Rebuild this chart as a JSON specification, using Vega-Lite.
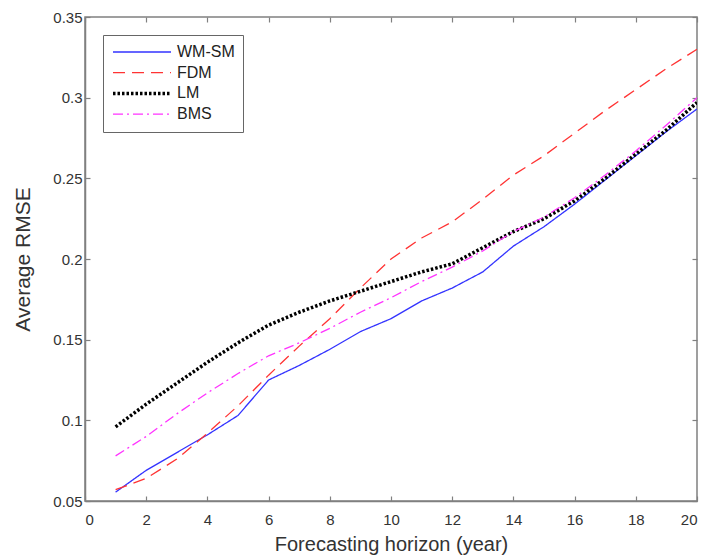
{
  "$schema": "https://vega.github.io/schema/vega-lite/v6.json",
  "width": 612,
  "height": 484,
  "autosize": {"type": "none"},
  "padding": {"left": 85, "top": 17, "right": 12, "bottom": 58},
  "background": "white",
  "config": {
    "font": "Liberation Sans",
    "view": {"stroke": "#808080", "strokeWidth": 1.5},
    "axis": {
      "grid": false,
      "domainColor": "#808080",
      "domainWidth": 1.5,
      "tickColor": "#808080",
      "tickSize": -5,
      "tickWidth": 1.2,
      "labelFont": "Liberation Sans",
      "labelFontSize": 15,
      "labelColor": "#333333",
      "titleFont": "Liberation Sans",
      "titleFontWeight": "normal",
      "titleColor": "#333333"
    },
    "legend": {"title": null, "orient": "none", "legendX": 18, "legendY": 18,
               "symbolType": "stroke", "symbolSize": 3364,
               "clipHeight": 18, "rowPadding": 2.7, "labelFontSize": 16, "labelFont": "Liberation Sans", "labelColor": "#222222",
               "labelOffset": 4, "padding": 8, "strokeColor": "#666666", "fillColor": "white"}
  },
  "data": {
    "values": [
      {"h": 1, "s": "WM-SM", "v": 0.0555}, {"h": 2, "s": "WM-SM", "v": 0.069}, {"h": 3, "s": "WM-SM", "v": 0.080}, {"h": 4, "s": "WM-SM", "v": 0.091}, {"h": 5, "s": "WM-SM", "v": 0.103},
      {"h": 6, "s": "WM-SM", "v": 0.125}, {"h": 7, "s": "WM-SM", "v": 0.134}, {"h": 8, "s": "WM-SM", "v": 0.144}, {"h": 9, "s": "WM-SM", "v": 0.155}, {"h": 10, "s": "WM-SM", "v": 0.163},
      {"h": 11, "s": "WM-SM", "v": 0.174}, {"h": 12, "s": "WM-SM", "v": 0.182}, {"h": 13, "s": "WM-SM", "v": 0.192}, {"h": 14, "s": "WM-SM", "v": 0.208}, {"h": 15, "s": "WM-SM", "v": 0.220},
      {"h": 16, "s": "WM-SM", "v": 0.234}, {"h": 17, "s": "WM-SM", "v": 0.249}, {"h": 18, "s": "WM-SM", "v": 0.264}, {"h": 19, "s": "WM-SM", "v": 0.279}, {"h": 20, "s": "WM-SM", "v": 0.293},
      {"h": 1, "s": "FDM", "v": 0.057}, {"h": 2, "s": "FDM", "v": 0.064}, {"h": 3, "s": "FDM", "v": 0.076}, {"h": 4, "s": "FDM", "v": 0.092}, {"h": 5, "s": "FDM", "v": 0.109},
      {"h": 6, "s": "FDM", "v": 0.128}, {"h": 7, "s": "FDM", "v": 0.146}, {"h": 8, "s": "FDM", "v": 0.163}, {"h": 9, "s": "FDM", "v": 0.182}, {"h": 10, "s": "FDM", "v": 0.200},
      {"h": 11, "s": "FDM", "v": 0.213}, {"h": 12, "s": "FDM", "v": 0.223}, {"h": 13, "s": "FDM", "v": 0.237}, {"h": 14, "s": "FDM", "v": 0.252}, {"h": 15, "s": "FDM", "v": 0.264},
      {"h": 16, "s": "FDM", "v": 0.278}, {"h": 17, "s": "FDM", "v": 0.292}, {"h": 18, "s": "FDM", "v": 0.305}, {"h": 19, "s": "FDM", "v": 0.318}, {"h": 20, "s": "FDM", "v": 0.330},
      {"h": 1, "s": "LM", "v": 0.096}, {"h": 2, "s": "LM", "v": 0.110}, {"h": 3, "s": "LM", "v": 0.123}, {"h": 4, "s": "LM", "v": 0.136}, {"h": 5, "s": "LM", "v": 0.148},
      {"h": 6, "s": "LM", "v": 0.159}, {"h": 7, "s": "LM", "v": 0.167}, {"h": 8, "s": "LM", "v": 0.174}, {"h": 9, "s": "LM", "v": 0.180}, {"h": 10, "s": "LM", "v": 0.186},
      {"h": 11, "s": "LM", "v": 0.192}, {"h": 12, "s": "LM", "v": 0.197}, {"h": 13, "s": "LM", "v": 0.207}, {"h": 14, "s": "LM", "v": 0.217}, {"h": 15, "s": "LM", "v": 0.225},
      {"h": 16, "s": "LM", "v": 0.236}, {"h": 17, "s": "LM", "v": 0.250}, {"h": 18, "s": "LM", "v": 0.265}, {"h": 19, "s": "LM", "v": 0.280}, {"h": 20, "s": "LM", "v": 0.297},
      {"h": 1, "s": "BMS", "v": 0.078}, {"h": 2, "s": "BMS", "v": 0.090}, {"h": 3, "s": "BMS", "v": 0.104}, {"h": 4, "s": "BMS", "v": 0.117}, {"h": 5, "s": "BMS", "v": 0.129},
      {"h": 6, "s": "BMS", "v": 0.140}, {"h": 7, "s": "BMS", "v": 0.148}, {"h": 8, "s": "BMS", "v": 0.157}, {"h": 9, "s": "BMS", "v": 0.167}, {"h": 10, "s": "BMS", "v": 0.176},
      {"h": 11, "s": "BMS", "v": 0.186}, {"h": 12, "s": "BMS", "v": 0.195}, {"h": 13, "s": "BMS", "v": 0.205}, {"h": 14, "s": "BMS", "v": 0.217}, {"h": 15, "s": "BMS", "v": 0.226},
      {"h": 16, "s": "BMS", "v": 0.238}, {"h": 17, "s": "BMS", "v": 0.252}, {"h": 18, "s": "BMS", "v": 0.267}, {"h": 19, "s": "BMS", "v": 0.283}, {"h": 20, "s": "BMS", "v": 0.300}
    ]
  },
  "layer": [
    {
      "mark": {"type": "line", "clip": true},
      "encoding": {
        "x": {"field": "h", "type": "quantitative", "title": "Forecasting horizon (year)",
              "scale": {"domain": [0, 20], "nice": false},
              "axis": {"orient": "bottom", "values": [0,2,4,6,8,10,12,14,16,18,20], "labelPadding": 16, "titlePadding": 7, "titleFontSize": 20}},
        "y": {"field": "v", "type": "quantitative", "title": "Average RMSE",
              "scale": {"domain": [0.05, 0.35], "nice": false, "zero": false},
              "axis": {"orient": "left", "values": [0.05,0.1,0.15,0.2,0.25,0.3,0.35], "format": ".2~f", "labelPadding": 8, "titlePadding": 19, "titleFontSize": 21}},
        "color": {"field": "s", "type": "nominal", "sort": ["WM-SM", "FDM", "LM", "BMS"],
                  "scale": {"domain": ["WM-SM", "FDM", "LM", "BMS"], "range": ["#3333ff", "#ff3333", "#000000", "#ff33ff"]}},
        "strokeDash": {"field": "s", "type": "nominal", "sort": ["WM-SM", "FDM", "LM", "BMS"],
                       "scale": {"domain": ["WM-SM", "FDM", "LM", "BMS"], "range": [[1, 0], [12, 7], [2.5, 2], [10, 4, 2, 4]]}},
        "strokeWidth": {"field": "s", "type": "ordinal", "sort": ["WM-SM", "FDM", "LM", "BMS"],
                        "scale": {"type": "ordinal", "domain": ["WM-SM", "FDM", "LM", "BMS"], "range": [1.3, 1.3, 3.5, 1.3]}}
      }
    },
    {
      "mark": {"type": "rule", "opacity": 0},
      "encoding": {
        "x": {"field": "h", "type": "quantitative", "title": null,
              "axis": {"values": [0,2,4,6,8,10,12,14,16,18,20], "labels": false, "domain": false}},
        "y": {"field": "v", "type": "quantitative", "title": null,
              "axis": {"values": [0.05,0.1,0.15,0.2,0.25,0.3,0.35], "labels": false, "domain": false}}
      }
    }
  ],
  "resolve": {"axis": {"x": "independent", "y": "independent"}}
}
